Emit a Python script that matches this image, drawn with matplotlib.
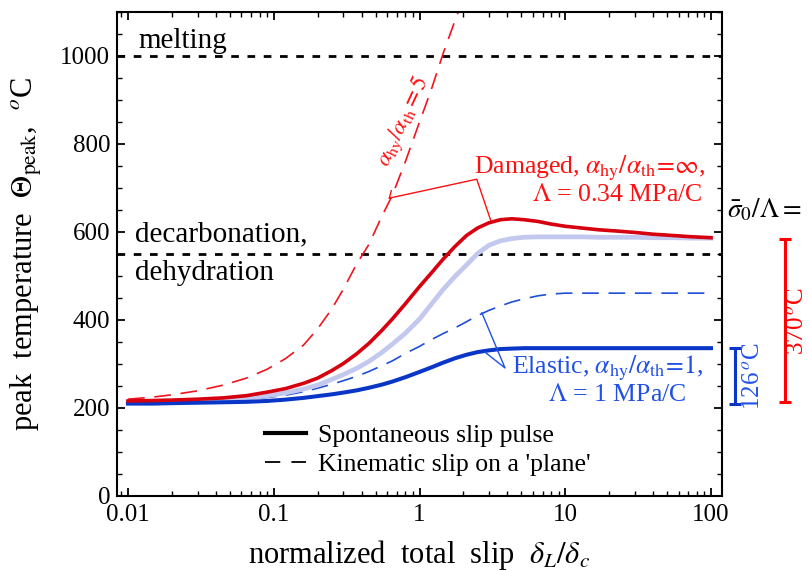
#!/usr/bin/env python3

import matplotlib.pyplot as plt
from matplotlib.lines import Line2D
from matplotlib.ticker import MultipleLocator, LogLocator, NullFormatter

# Normalized total slip delta_L / delta_c, shared by the pulse curves.
slip = [0.01, 0.015, 0.02, 0.03, 0.045, 0.065, 0.09, 0.12, 0.16, 0.2, 0.25,
        0.3, 0.37, 0.45, 0.55, 0.65, 0.8, 1.0, 1.2, 1.45, 1.75, 2.1, 2.5, 3.0,
        3.6, 4.3, 5.2, 6.5, 8.0, 10.0, 13.0, 17.0, 23.0, 30.0, 40.0, 55.0,
        75.0, 100.0]

# Peak temperature (C) of the spontaneous slip pulses.
damaged_pulse = [216, 217, 218, 220, 223, 228, 236, 244, 256, 268, 285,
                 301, 323, 347, 376, 402, 437, 476, 506, 538, 567, 592, 609, 621,
                 628, 630, 628, 624, 618, 613, 609, 605, 602, 599, 595, 592,
                 589, 587]
pale_pulse = [213, 213, 214, 216, 218, 222, 228, 234, 243, 252, 265,
              276, 290, 306, 326, 345, 370, 402, 435, 469, 499, 525, 551, 570,
              580, 585, 588, 589, 589, 589, 589, 588, 588, 588, 587, 587,
              586, 586]
elastic_pulse = [210, 210, 211, 212, 213, 214, 216, 219, 223, 227, 231,
                 235, 240, 246, 253, 260, 270, 282, 292, 303, 313, 321, 327, 331,
                 334, 335, 336, 336, 336, 336, 336, 336, 336, 336, 336, 336,
                 336, 336]

# Kinematic slip on a plane.
elastic_kinematic = [212, 212, 213, 214, 216, 219, 224, 229, 237, 245, 254,
                     262, 272, 283, 296, 307, 324, 340, 355, 369, 382, 396, 410, 422,
                     432, 441, 448, 455, 459, 461, 461, 461, 461, 461, 461, 461,
                     461, 461]
slip_hy5 = [0.01, 0.015, 0.02, 0.03, 0.045, 0.065, 0.09, 0.12, 0.16, 0.2,
            0.25, 0.3, 0.37, 0.45, 0.55, 0.65, 0.8, 1.0, 1.2, 1.45, 1.75, 2.1]
kinematic_hy5 = [220, 225, 230, 239, 252, 268, 288, 312, 343, 380,
                 425, 470, 527, 572, 635, 683, 760, 850, 922, 1005, 1080, 1150]

# Reference temperatures (C).
melting = 1000
decarbonation = 550

# Temperature rise at large slip, drawn as bars at the right.
damaged_rise = 370
damaged_base = 213
elastic_rise = 126
elastic_base = 210

RED = '#d6000f'
RED_LIGHT = '#f0141e'
RED_TEXT = '#ff1010'
BLUE = '#0a36c8'
BLUE_DASH = '#1f4ed8'
BLUE_TEXT = '#2050e6'
PALE = '#c3c8ee'


def main():
    plt.rcParams['font.family'] = ['Liberation Serif', 'DejaVu Serif']
    plt.rcParams['mathtext.fontset'] = 'stix'
    plt.rcParams['font.size'] = 18.5
    plt.rcParams['lines.scale_dashes'] = False
    plt.rcParams['axes.linewidth'] = 1.5

    fig = plt.figure(figsize=(8.09, 5.70), dpi=100)
    ax = fig.add_axes([117 / 809, 74 / 570, 605 / 809, 484 / 570])

    # Threshold lines.
    ax.axhline(melting, color='k', lw=2, dashes=(5.5, 6.2))
    ax.axhline(decarbonation, color='k', lw=2, dashes=(5.5, 6.2))
    ax.text(0.0117, melting + 4, 'melting', fontsize=21, ha='left', va='bottom')
    ax.text(0.0112, decarbonation + 15, 'decarbonation,', fontsize=21,
            ha='left', va='bottom')
    ax.text(0.0112, decarbonation - 13, 'dehydration', fontsize=21, ha='left', va='top')

    # Curves.
    ax.plot(slip_hy5, kinematic_hy5, color=RED_LIGHT, lw=1.2, dashes=(12, 7))
    ax.plot(slip, elastic_kinematic, color=BLUE_DASH, lw=1.2, dashes=(12, 7))
    ax.plot(slip, pale_pulse, color=PALE, lw=3.4)
    ax.plot(slip, elastic_pulse, color=BLUE, lw=2.9)
    ax.plot(slip, damaged_pulse, color=RED, lw=2.6)

    # Damaged label with its bracket to the two red curves.
    ax.plot([0.621, 2.47, 3.09], [677, 720, 625], color=RED_TEXT, lw=1)
    ax.plot([0.621, 0.64], [677, 694], color=RED_TEXT, lw=1)
    ax.text(91, 745, r'Damaged, $\alpha_{\mathrm{hy}}/\alpha_{\mathrm{th}}\!=\!\infty$,',
            color=RED_TEXT, ha='right', va='center')
    ax.text(88, 684, r'$\Lambda$ = 0.34 MPa/C', color=RED_TEXT, ha='right', va='center')
    ax.text(0.77, 850, r'$\alpha_{\mathrm{hy}}/\alpha_{\mathrm{th}}=5$', color=RED_TEXT,
            fontsize=16.5, rotation=65, ha='center', va='center', rotation_mode='anchor')

    # Elastic label with its bracket.
    ax.plot([2.68, 3.86, 2.81], [416, 291, 327], color=BLUE_TEXT, lw=1)
    ax.text(4.3, 291, r'Elastic, $\alpha_{\mathrm{hy}}/\alpha_{\mathrm{th}}\!=\!1$,',
            color=BLUE_TEXT, ha='left', va='center')
    ax.text(68, 230, r'$\Lambda$ = 1 MPa/C', color=BLUE_TEXT, ha='right', va='center')

    # Temperature rise bars outside the right spine.
    trans = ax.get_yaxis_transform()
    for xb, base, rise, col in [(1.0215, elastic_base, elastic_rise, BLUE),
                                (1.104, damaged_base, damaged_rise, '#ff0000')]:
        ax.vlines(xb, base, base + rise, color=col, lw=2.2, transform=trans, clip_on=False)
        ax.hlines([base, base + rise], xb - 0.01, xb + 0.01, color=col, lw=2.2,
                  transform=trans, clip_on=False)
    fig.text(753 / 809, 1 - 376 / 570, '%d$\\,^o$C' % elastic_rise, color=BLUE_TEXT,
             fontsize=18, rotation=90, ha='center', va='center')
    fig.text(797 / 809, 1 - 321 / 570, '%d$\\,^o$C' % damaged_rise, color='#ff0000',
             fontsize=18, rotation=90, ha='center', va='center')
    fig.text(727 / 809, 1 - 210 / 570, r'$\bar{\sigma}_0/\Lambda=$', fontsize=19.5,
             ha='left', va='center')

    # Legend for the line styles.
    handles = [Line2D([], [], color='k', lw=3),
               Line2D([], [], color='k', lw=1.3, dashes=(11, 8))]
    ax.legend(handles, ['Spontaneous slip pulse', "Kinematic slip on a 'plane'"],
              loc='lower left', bbox_to_anchor=(0.2446, 0.042), frameon=False,
              handlelength=1.6, handletextpad=0.45, labelspacing=0.22,
              borderpad=0, borderaxespad=0)

    # Axes, ticks and labels.
    ax.set_xscale('log')
    ax.set_xlim(0.0084, 119)
    ax.set_ylim(0, 1100)
    ax.set_xticks([0.01, 0.1, 1, 10, 100], labels=['0.01', '0.1', '1', '10', '100'])
    ax.xaxis.set_minor_locator(LogLocator(base=10, subs=range(2, 10)))
    ax.xaxis.set_minor_formatter(NullFormatter())
    ax.set_yticks(range(0, 1001, 200))
    ax.yaxis.set_minor_locator(MultipleLocator(50))
    ax.tick_params(which='both', direction='in', top=True, right=True, labelsize=18)
    ax.tick_params(which='major', length=6, width=1.3)
    ax.tick_params(which='minor', length=3.5, width=1)
    ax.tick_params(axis='x', pad=5.5)
    ax.tick_params(axis='y', pad=5)

    ax.set_xlabel(r'normalized  total  slip  $\delta_L/\delta_c$', fontsize=22)
    ax.set_ylabel(r'peak  temperature  $\Theta_{\mathrm{peak}}$,  $^o$C', fontsize=22)
    ax.xaxis.set_label_coords(0.5, -0.086)
    ax.yaxis.set_label_coords(-0.12, 0.5)

    fig.savefig('out.png', dpi=100)


if __name__ == '__main__':
    main()
